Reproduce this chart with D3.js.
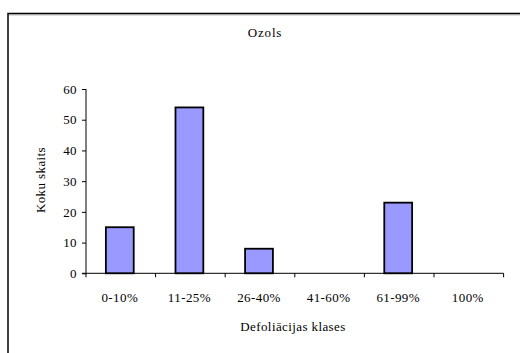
<!DOCTYPE html>
<html><head><meta charset="utf-8">
<script src="https://cdn.jsdelivr.net/npm/d3@7"></script>
<style>body{margin:0;background:#fff}svg{display:block}</style>
</head><body><svg id="c" width="520" height="353" font-family="'Liberation Serif', 'DejaVu Serif', serif"></svg>
<script>
const categories = ["0-10%","11-25%","26-40%","41-60%","61-99%","100%"];
const values = [15,54,8,0,23,0];
const yTicks = [0,10,20,30,40,50,60];
const title = "Ozols";
const xTitle = "Defoliācijas klases";
const yTitle = "Koku skaits";
const FONT = "'Liberation Serif', 'DejaVu Serif', serif";
const FS = "13px";
const LS = "0.4px";

const svg = d3.select("#c");
svg.append("line").attr("x1",8).attr("x2",520).attr("y1",15).attr("y2",15).attr("stroke","#bbb").attr("stroke-width",1);
svg.append("rect").attr("x",8).attr("y",13.5).attr("width",600).attr("height",400)
  .attr("fill","none").attr("stroke","#000").attr("stroke-width",1.5);

const x = d3.scaleBand().domain(categories).range([86,503.6]).paddingInner(0).paddingOuter(0);
const y = d3.scaleLinear().domain([0,60]).range([273.3,89]);
const bw = x.bandwidth()*0.4;

svg.selectAll("rect.bar").data(values).join("rect").attr("class","bar")
  .attr("x",(d,i)=>x(categories[i])+x.bandwidth()/2-bw/2-1)
  .attr("y",d=>y(d)).attr("width",bw).attr("height",d=>y(0)-y(d))
  .attr("fill",d=>d>0?"#9999ff":"none").attr("stroke",d=>d>0?"#000":"none").attr("stroke-width",1.8);

const ya = svg.append("g").attr("transform","translate(86,0)")
  .call(d3.axisLeft(y).tickValues(yTicks).tickSize(4).tickPadding(5).tickFormat(d3.format("d")));
ya.attr("font-family",FONT).attr("font-size",FS);
ya.select(".domain").attr("d","M0,89V273.3");
ya.selectAll("text").attr("fill","#000").attr("letter-spacing",LS);

const xa = svg.append("g").attr("transform","translate(0,273.3)");
xa.append("line").attr("x1",82).attr("x2",503.6).attr("stroke","#000");
const bounds = categories.map(c=>x(c)).concat([x.range()[1]]);
xa.selectAll("line.t").data(bounds).join("line").attr("class","t")
  .attr("x1",d=>d).attr("x2",d=>d).attr("y1",0).attr("y2",4).attr("stroke","#000");
xa.selectAll("text").data(categories).join("text")
  .attr("x",d=>x(d)+x.bandwidth()/2-1).attr("y",28.5).attr("text-anchor","middle")
  .attr("font-family",FONT).attr("font-size",FS).attr("letter-spacing",LS).text(d=>d);

svg.append("text").attr("x",265).attr("y",37).attr("text-anchor","middle").attr("font-family",FONT).attr("font-size",FS).attr("letter-spacing","0.8px").text(title);
svg.append("text").attr("x",293).attr("y",331).attr("text-anchor","middle").attr("font-family",FONT).attr("font-size",FS).attr("letter-spacing",LS).text(xTitle);
svg.append("text").attr("transform","translate(45,180) rotate(-90)").attr("text-anchor","middle").attr("font-family",FONT).attr("font-size",FS).attr("letter-spacing",LS).text(yTitle);
</script></body></html>
